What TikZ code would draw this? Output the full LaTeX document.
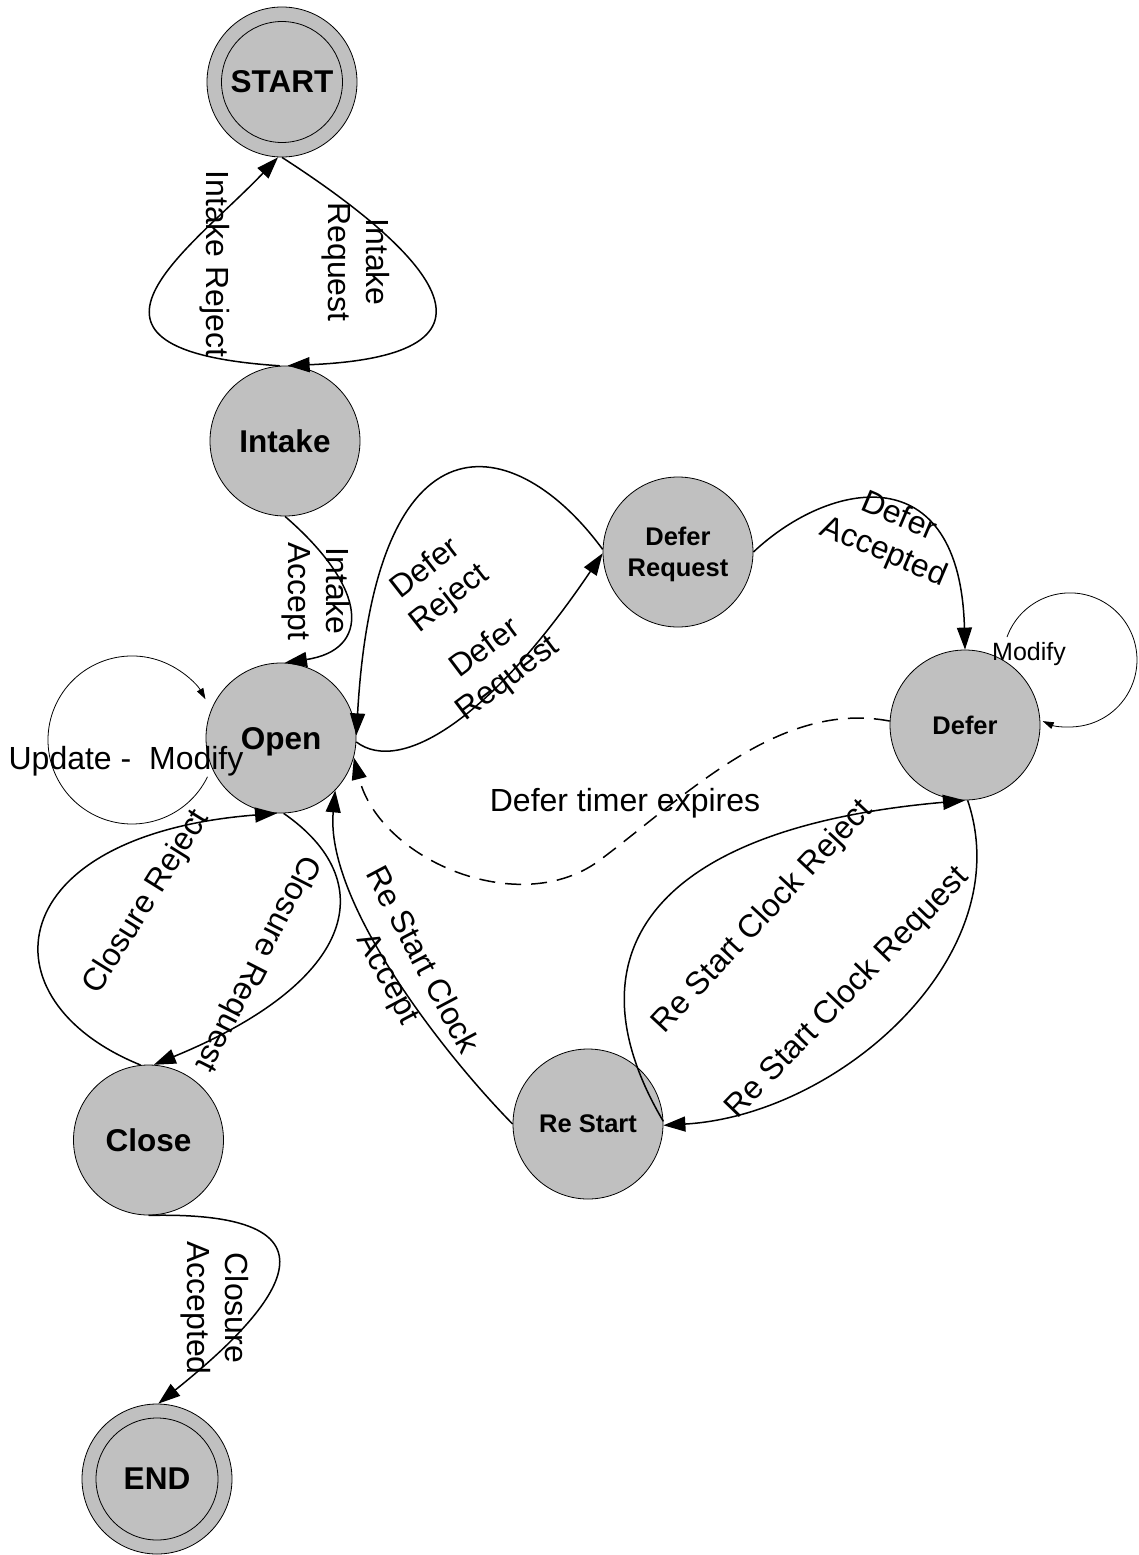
\documentclass[tikz,border=0pt]{standalone}
\usepackage{fontspec}
\setmainfont{Liberation Sans}
\usetikzlibrary{arrows.meta}
\definecolor{stategray}{RGB}{192,192,192}
\begin{document}
\begin{tikzpicture}[x=1pt,y=-1pt,
  state/.style={circle, draw=black, line width=0.8pt, fill=stategray,
    minimum size=150pt, inner sep=0pt, text depth=0pt, align=center,
    font=\bfseries\fontsize{31.5}{36}\selectfont},
  smallstate/.style={state, font=\bfseries\fontsize{25.5}{31}\selectfont},
  trans/.style={line width=1.5pt, -{Triangle[length=22pt,width=15pt]}},
  timer/.style={trans, dash pattern=on 16pt off 10pt},
  selfloop/.style={line width=0.8pt, -{Triangle[length=11pt,width=7pt]}},
  lbl/.style={font=\fontsize{32}{38}\selectfont, align=center, inner sep=0pt}]

\fill[white] (0,0) rectangle (1139,1555);
\useasboundingbox (0,0) rectangle (1139,1555);

% states
\node[state] (startst) at (282,82) {START};
\draw[line width=0.8pt] (startst.center) circle[radius=60.5pt];
\node[state] (intake) at (285,441) {Intake};
\node[state] (open) at (281,738) {Open};
\node[smallstate] (deferreq) at (678,552) {Defer\\Request};
\node[smallstate] (defer) at (965,725) {Defer};
\node[smallstate] (restart) at (588,1124) {Re Start};
\node[state] (close) at (148.5,1140) {Close};
\node[state] (endst) at (157,1479) {END};
\draw[line width=0.8pt] (endst.center) circle[radius=61pt];

% transitions
\draw[trans] (startst.-90) .. controls (410,240) and (540,355) .. (intake.88);
\draw[trans] (intake.94) .. controls (40,350) and (190,250) .. (startst.-93);
\draw[trans] (intake.-90) .. controls (370,590) and (370,650) .. (open.87);
\draw[trans] (deferreq.178) .. controls (515,430) and (375,405) .. (open.2);
\draw[trans] (open.-3) .. controls (400,775) and (490,720) .. (deferreq.181);
\draw[trans] (deferreq.0) .. controls (830,480) and (960,455) .. (defer.90);
\coordinate (timerlow) at (600,860);
\draw[timer] (defer.177) .. controls (780,700) and (688,794) .. (timerlow)
  .. controls (520,920) and (380,860) .. (open.-15);
\draw[trans] (restart.180) .. controls (440,1050) and (325,900) .. (open.-44);
\draw[trans] (restart.2) .. controls (565,955) and (650,828) .. (defer.-90);
\draw[trans] (defer.-88) .. controls (1020,955) and (840,1115) .. (restart.-1);
\draw[trans] (open.-88) .. controls (380,880) and (360,980) .. (close.86);
\draw[trans] (close.96) .. controls (-20,1000) and (0,835) .. (open.-93);
\draw[trans] (close.-90) .. controls (380,1210) and (250,1330) .. (endst.89);

% self loops
\coordinate (openloop) at (207.5,776.8);
\draw[selfloop] (openloop) arc[start angle=26, end angle=331, radius=84];
\coordinate (deferloop) at (1007,637);
\draw[selfloop] (deferloop) arc[start angle=-160, end angle=114, radius=67];

% transition labels
\node[lbl, rotate=-90] (lIntakeReq) at (356,262) {Intake\\Request};
\node[lbl, rotate=-90] (lIntakeRej) at (215,264) {Intake Reject};
\node[lbl, rotate=-90] (lIntakeAcc) at (316,591) {Intake\\Accept};
\node[lbl, rotate=38] (lDeferRej) at (438,584) {Defer\\Reject};
\node[lbl, rotate=37] (lDeferReq) at (497,664) {Defer\\Request};
\node[lbl, rotate=-23] (lDeferAcc) at (891,535) {Defer\\Accepted};
\node[lbl, anchor=base, font=\fontsize{25}{30}\selectfont] (lModify) at (1029,660) {Modify};
\node[lbl, anchor=base] (lUpdate) at (126,769) {Update -\ \ Modify};
\node[lbl, anchor=base] (lTimer) at (625,811) {Defer timer expires};
\node[lbl, rotate=-62] (lRsAcc) at (404,970) {Re Start Clock\\Accept};
\node[lbl, rotate=47] (lRsRej) at (763,917) {Re Start Clock Reject};
\node[lbl, rotate=46] (lRsReq) at (848,993) {Re Start Clock Request};
\node[lbl, rotate=-117] (lClReq) at (257,963) {Closure Request};
\node[lbl, rotate=58] (lClRej) at (147,902) {Closure Reject};
\node[lbl, rotate=-90] (lClAcc) at (215,1308) {Closure\\Accepted};
\end{tikzpicture}
\end{document}
